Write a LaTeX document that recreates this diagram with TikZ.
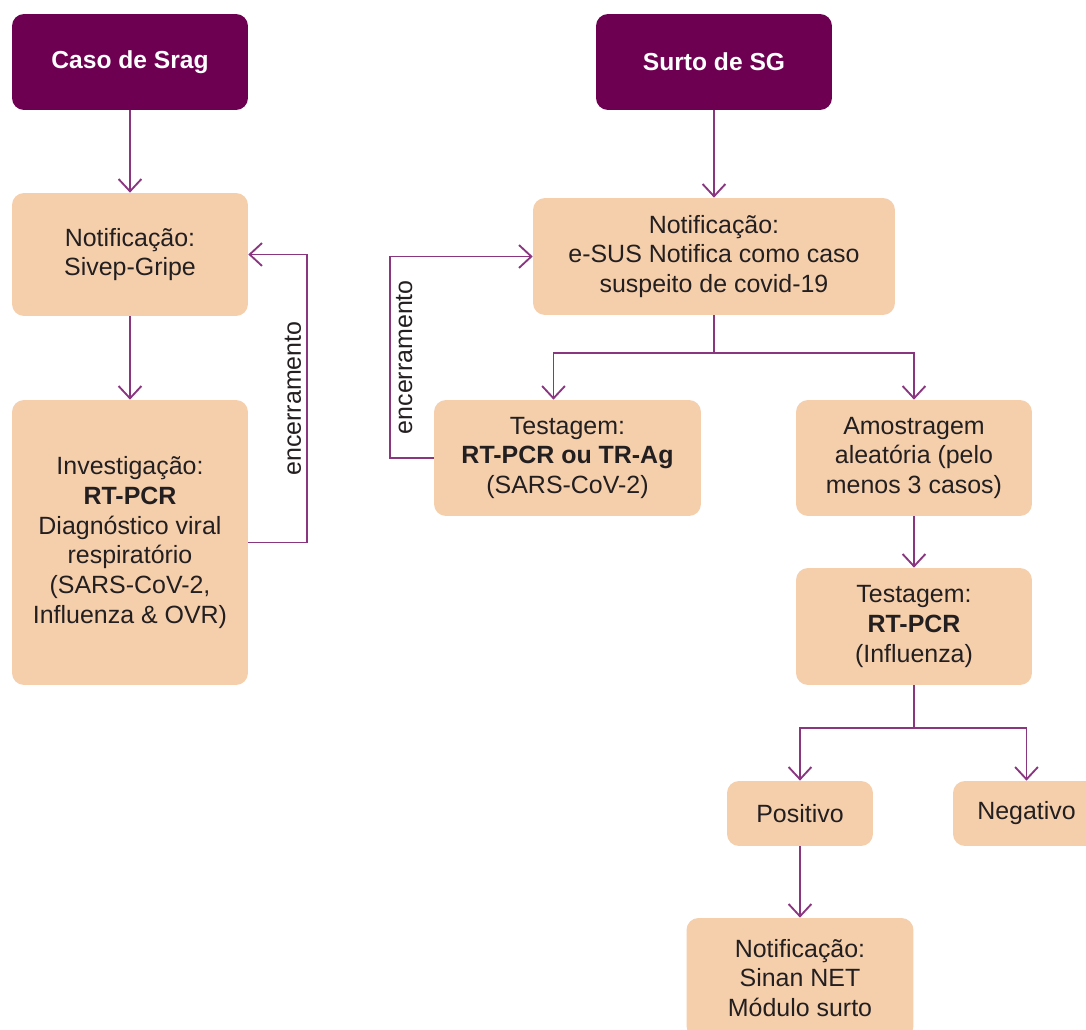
\documentclass[tikz,border=0pt]{standalone}
\usepackage{fontspec}
\setmainfont{Liberation Sans}
\usetikzlibrary{arrows.meta}
\definecolor{roxo}{HTML}{6E0051}
\definecolor{linha}{HTML}{8A3580}
\definecolor{pessego}{HTML}{F5CFAC}
\definecolor{texto}{HTML}{231F20}
\tikzset{
	topo/.style={shape=rectangle, fill=roxo, rounded corners=0.24cm, text=white, font=\fontsize{14}{17}\selectfont\bfseries, align=center},
	caixa/.style={shape=rectangle, fill=pessego, rounded corners=0.24cm, text=texto, font=\fontsize{14.2}{17}\selectfont, align=center},
	fio/.style={draw=linha, line width=1.05pt},
	seta/.style={fio, -{Straight Barb[length=7pt, width=13pt]}},
	rotulo/.style={rotate=90, text=texto, font=\fontsize{14.2}{17}\selectfont, inner sep=3pt}
}
\begin{document}
\begin{tikzpicture}[x=0.02cm, y=-0.02cm]
	\useasboundingbox[fill=white] (0, 0) rectangle (1086, 1030);
	% Caixas:
	\node[topo, minimum width=4.72cm, minimum height=1.92cm] (srag) at (130, 62) {Caso de Srag};
	\node[topo, minimum width=4.72cm, minimum height=1.92cm] (surto) at (714, 62) {Surto de SG};
	\node[caixa, minimum width=4.72cm, minimum height=2.46cm] (sivep) at (130, 254.5) {Notificação:\\Sivep-Gripe};
	\node[caixa, minimum width=4.72cm, minimum height=5.7cm] (invest) at (130, 542.5) {Investigação:\\\textbf{RT-PCR}\\Diagnóstico viral\\respiratório\\(SARS-CoV-2,\\Influenza \& OVR)};
	\node[caixa, minimum width=7.24cm, minimum height=2.34cm] (esus) at (714, 256.5) {Notificação:\\e-SUS Notifica como caso\\suspeito de covid-19};
	\node[caixa, minimum width=5.34cm, minimum height=2.32cm] (teste1) at (567.5, 458) {Testagem:\\\textbf{RT-PCR ou TR-Ag}\\(SARS-CoV-2)};
	\node[caixa, minimum width=4.72cm, minimum height=2.32cm] (amostra) at (914, 458) {Amostragem\\aleatória (pelo\\menos 3 casos)};
	\node[caixa, minimum width=4.72cm, minimum height=2.34cm] (teste2) at (914, 626.5) {Testagem:\\\textbf{RT-PCR}\\(Influenza)};
	\node[caixa, minimum width=2.92cm, minimum height=1.3cm] (positivo) at (800, 813.5) {Positivo};
	\node[caixa, minimum width=2.94cm, minimum height=1.3cm] (negativo) at (1026.5, 813.5) {Negativo};
	\node[caixa, minimum width=4.54cm, minimum height=2.4cm] (sinan) at (800, 978) {Notificação:\\Sinan NET\\Módulo surto};
	% Setas:
	\draw[seta] (srag) -- (sivep);
	\draw[seta] (sivep) -- (invest);
	\draw[seta] (invest.east) -- ++(59, 0) |- node[rotulo, pos=0.25, anchor=south] {encerramento} (sivep.east);
	\draw[seta] (surto) -- (esus);
	\draw[fio] (esus.south) -- ++(0, 38) coordinate (ramo1);
	\draw[seta] (ramo1) -| ([xshift=-0.28cm]teste1.north);
	\draw[seta] (ramo1) -| (amostra.north);
	\draw[seta] (teste1.west) -- ++(-44, 0) |- node[rotulo, pos=0.25, anchor=north] {encerramento} (esus.west);
	\draw[seta] (amostra) -- (teste2);
	\draw[fio] (teste2.south) -- ++(0, 43) coordinate (ramo2);
	\draw[seta] (ramo2) -| (positivo.north);
	\draw[seta] (ramo2) -| (negativo.north);
	\draw[seta] (positivo) -- (sinan);
\end{tikzpicture}
\end{document}
